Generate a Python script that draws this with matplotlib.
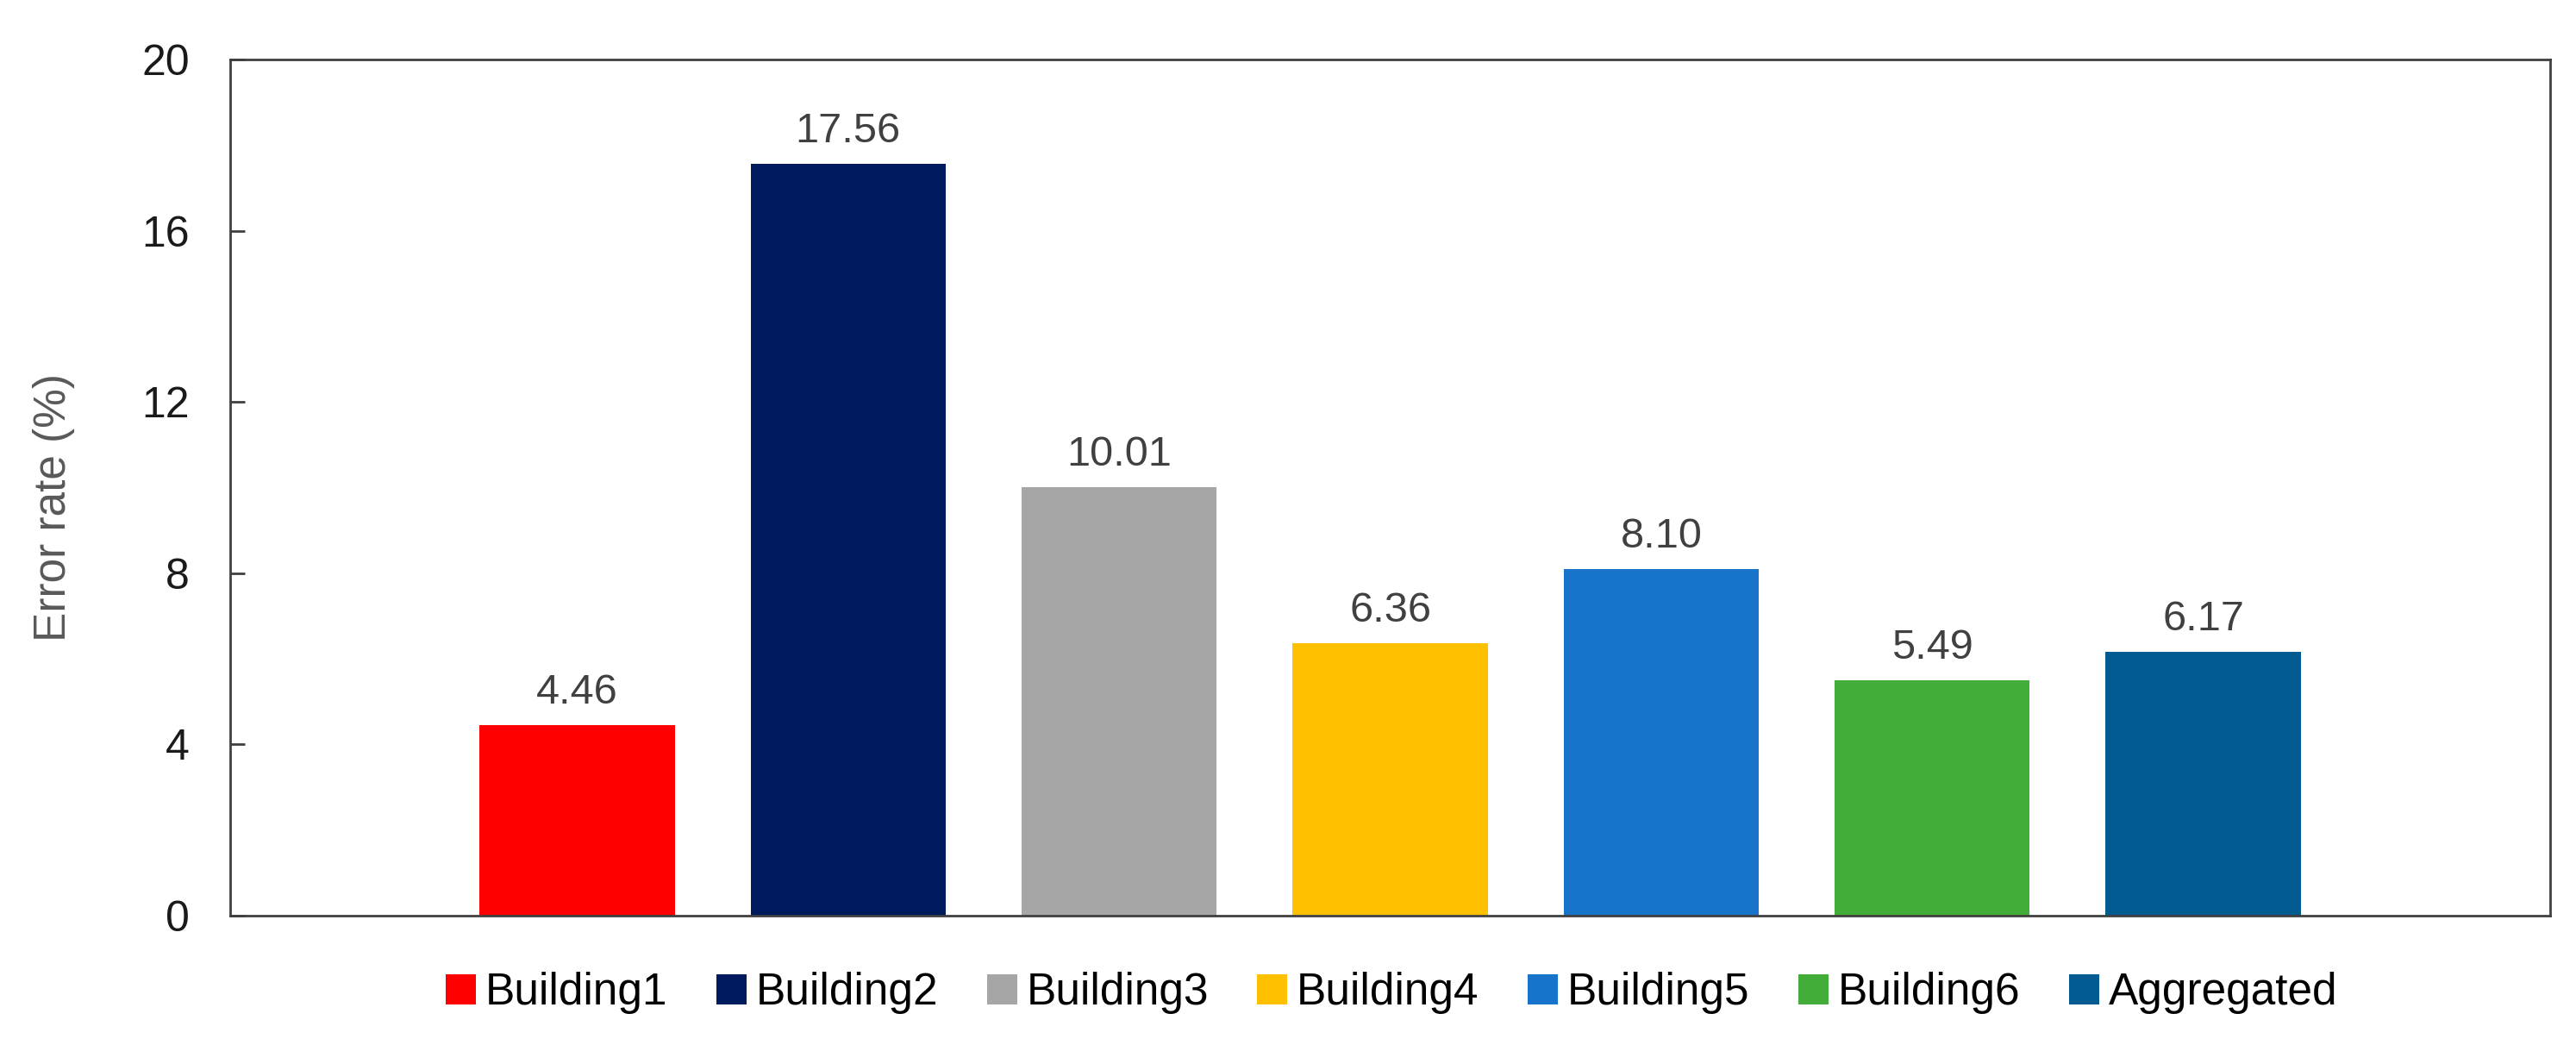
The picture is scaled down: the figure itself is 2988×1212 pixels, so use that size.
import matplotlib.pyplot as plt
from matplotlib.patches import Patch

plt.rcParams['font.family'] = ['Liberation Sans', 'DejaVu Sans']

names = ["Building1", "Building2", "Building3", "Building4",
         "Building5", "Building6", "Aggregated"]
values = [4.46, 17.56, 10.01, 6.36, 8.10, 5.49, 6.17]
colors = ["#FF0000", "#001A5E", "#A6A6A6", "#FFC000",
          "#1874CB", "#43AD3A", "#015B91"]
yticks = [0, 4, 8, 12, 16, 20]

fig = plt.figure(figsize=(14.94, 6.06), dpi=200)
ax = fig.add_axes([267 / 2988, 1 - 1062 / 1212, (2958 - 267) / 2988, (1062 - 69) / 1212])

x = list(range(len(names)))
ax.bar(x, values, width=0.72, color=colors, zorder=2)

# value labels above each bar
for xi, v in zip(x, values):
    ax.annotate(f"{v:.2f}", (xi, v), xytext=(0, 9), textcoords="offset points",
                ha="center", va="baseline", fontsize=17.5, color="#404040")

ax.set_xlim(-1.28, len(names) - 1 + 1.28)
ax.set_ylim(0, 20)
ax.set_yticks(yticks)
ax.set_yticklabels([str(t) for t in yticks], fontsize=18, color="#1a1a1a")
ax.set_xticks([])
ax.tick_params(axis="y", direction="in", length=6, width=1, color="#404040", pad=17)
for s in ax.spines.values():
    s.set_color("#404040")
    s.set_linewidth(1.0)

ax.set_ylabel("Error rate (%)", fontsize=18.5, color="#595959")
ax.yaxis.set_label_coords(-0.067, 0.477)

handles = [Patch(facecolor=c, label=n) for c, n in zip(colors, names)]
fig.legend(handles=handles, loc="center", bbox_to_anchor=(1614 / 2988, 1 - 1152 / 1212),
           ncol=len(names), frameon=False, fontsize=18.5,
           handlelength=0.68, handleheight=0.68, handletextpad=0.21,
           columnspacing=1.1, borderpad=0)

fig.savefig("out.png", dpi=200)
